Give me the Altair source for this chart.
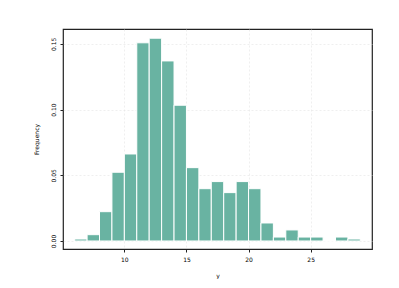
import altair as alt
import pandas as pd

bin_start = [6, 7, 8, 9, 10, 11, 12, 13, 14, 15, 16, 17, 18, 19, 20, 21, 22, 23, 24, 25, 26, 27, 28]
frequency = [0.0015, 0.0048, 0.0223, 0.0523, 0.0662, 0.1508, 0.1543, 0.1370, 0.1033, 0.0558,
             0.0398, 0.0452, 0.0368, 0.0452, 0.0398, 0.0137, 0.0030, 0.0084, 0.0030, 0.0030,
             0.0, 0.0030, 0.0015]

df = pd.DataFrame({"start": bin_start, "freq": frequency})
df["end"] = df["start"] + 1

bars = alt.Chart(df).mark_rect(color="#69b3a2", stroke="white", strokeWidth=1).encode(
    x=alt.X("start:Q", title="y",
            scale=alt.Scale(domain=[5.06, 29.94], nice=False, zero=False),
            axis=alt.Axis(values=[10, 15, 20, 25], format="d", grid=True,
                          gridColor="#e4e4e4", gridDash=[2, 2], gridWidth=0.6,
                          domain=False, tickColor="#222", tickSize=3, labelFontSize=6,
                          labelColor="#000", titleFontSize=6, titleColor="#000",
                          titleFontWeight="normal", labelPadding=4, titlePadding=10)),
    x2="end:Q",
    y=alt.Y("freq:Q", title="Frequency",
            scale=alt.Scale(domain=[-0.0061, 0.1613], nice=False, zero=False),
            axis=alt.Axis(values=[0, 0.05, 0.10, 0.15], format=".2f", grid=True,
                          gridColor="#e4e4e4", gridDash=[2, 2], gridWidth=0.6,
                          domain=False, tickColor="#222", tickSize=3, labelFontSize=6,
                          labelColor="#000", labelAngle=-90, labelAlign="center",
                          labelBaseline="bottom", labelPadding=4,
                          titleFontSize=6, titleColor="#000", titleFontWeight="normal",
                          titlePadding=11)),
    y2=alt.Y2(datum=0),
)

chart = bars.properties(
    width=309, height=220,
    autosize=alt.AutoSizeParams(type="none"),
    padding={"left": 55, "top": 21, "right": 10, "bottom": 30},
).configure(font="DejaVu Sans").configure_view(stroke="#222", strokeWidth=1.2)

chart.save("out.html", embed_options={"renderer": "svg", "actions": False})
